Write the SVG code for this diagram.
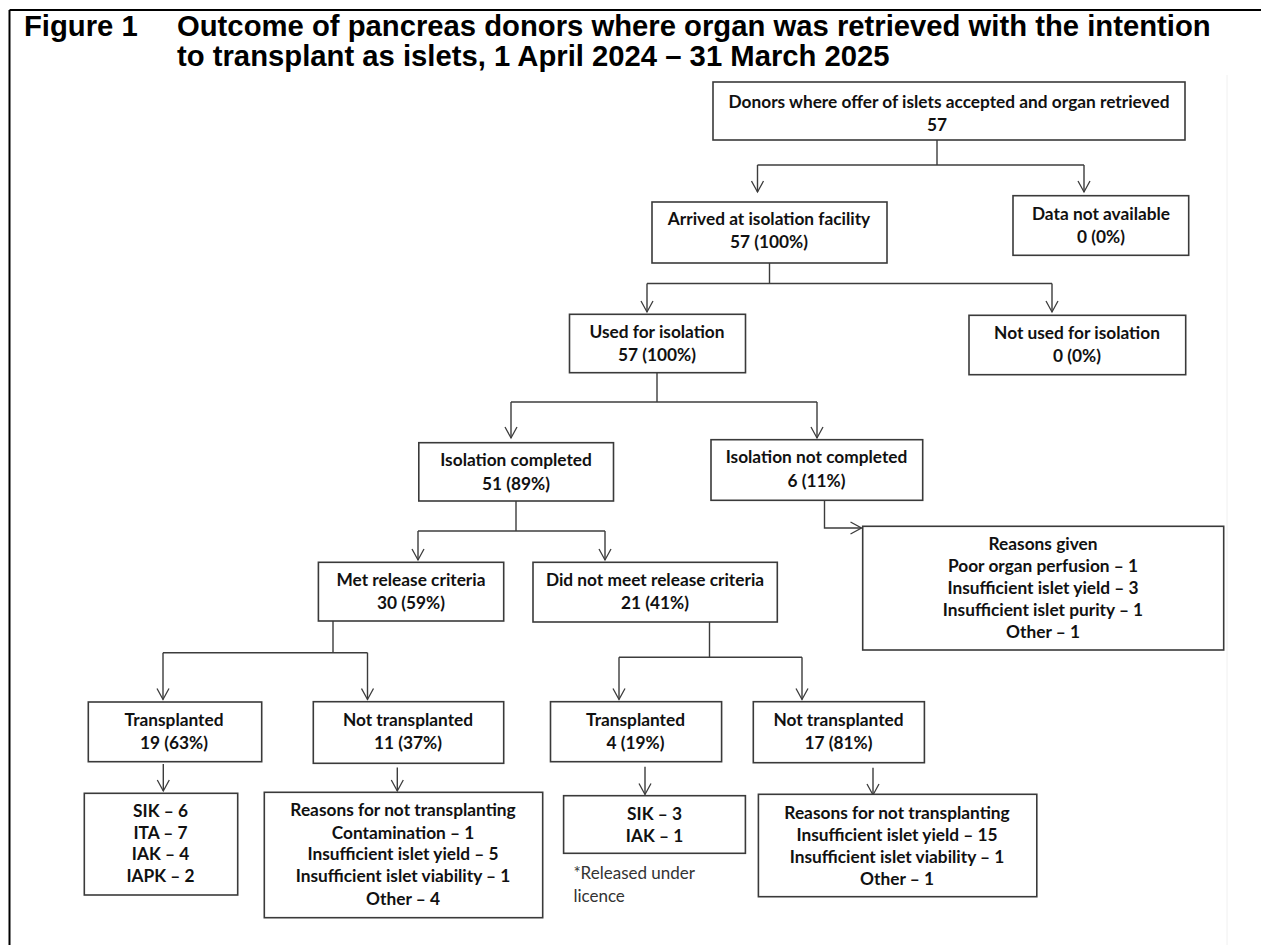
<svg xmlns="http://www.w3.org/2000/svg" width="1261" height="945" viewBox="0 0 1261 945">
<defs>
<marker id="arr" markerUnits="userSpaceOnUse" markerWidth="14" markerHeight="14" viewBox="-1 -1 14 14" refX="11" refY="6" orient="auto">
<path d="M0,0 L11,6 L0,12" fill="none" stroke="#3c3c3c" stroke-width="1.3"/>
</marker>
<style>
.title{font-family:"Liberation Sans",Arial,sans-serif;font-weight:bold;font-size:29.25px;fill:#000}
.box{fill:#fff;stroke:#3a3a3a;stroke-width:1.6}
.t{font-family:Lato,"Noto Sans",sans-serif;font-weight:bold;font-size:17.3px;fill:#111;text-anchor:middle}
.note{font-family:Lato,"Noto Sans",sans-serif;font-size:17px;fill:#333}
.c{fill:none;stroke:#3c3c3c;stroke-width:1.4}
.ca{fill:none;stroke:#3c3c3c;stroke-width:1.4;marker-end:url(#arr)}
</style>
</defs>
<rect width="1261" height="945" fill="#fff"/>
<g id="frame">
<line x1="9.5" y1="10" x2="1261" y2="10" stroke="#000" stroke-width="2"/>
<line x1="9.5" y1="10" x2="9.5" y2="945" stroke="#000" stroke-width="2"/>
<line x1="1227" y1="75" x2="1227" y2="945" stroke="#f0f0f0" stroke-width="1"/>
</g>
<g id="title">
<text class="title" x="24" y="36">Figure 1</text>
<text class="title" x="177" y="36">Outcome of pancreas donors where organ was retrieved with the intention</text>
<text class="title" x="177" y="66">to transplant as islets, 1 April 2024 – 31 March 2025</text>
</g>
<g id="connectors">
<polyline class="c" points="937,140 937,165"/>
<polyline class="c" points="757.5,165 1084,165"/>
<line class="ca" x1="757.5" y1="165" x2="757.5" y2="192"/>
<line class="ca" x1="1084" y1="165" x2="1084" y2="192"/>
<polyline class="c" points="769.5,263 769.5,283.5"/>
<polyline class="c" points="647,283.5 1052,283.5"/>
<line class="ca" x1="647" y1="283.5" x2="647" y2="312"/>
<line class="ca" x1="1052" y1="283.5" x2="1052" y2="312"/>
<polyline class="c" points="657,372.7 657,402"/>
<polyline class="c" points="511,402 817,402"/>
<line class="ca" x1="511" y1="402" x2="511" y2="438"/>
<line class="ca" x1="817" y1="402" x2="817" y2="438"/>
<polyline class="c" points="516,501 516,531"/>
<polyline class="c" points="418,531 605,531"/>
<line class="ca" x1="418" y1="531" x2="418" y2="560"/>
<line class="ca" x1="605" y1="531" x2="605" y2="560"/>
<polyline class="ca" points="824.5,500.3 824.5,528 861.5,528"/>
<polyline class="c" points="333,621 333,652.7"/>
<polyline class="c" points="163,652.7 367.5,652.7"/>
<line class="ca" x1="163" y1="652.7" x2="163" y2="699.5"/>
<line class="ca" x1="367.5" y1="652.7" x2="367.5" y2="699.5"/>
<polyline class="c" points="709.5,622 709.5,657.3"/>
<polyline class="c" points="619,657.3 802,657.3"/>
<line class="ca" x1="619" y1="657.3" x2="619" y2="699.5"/>
<line class="ca" x1="802" y1="657.3" x2="802" y2="699.5"/>
<line class="ca" x1="163.3" y1="764" x2="163.3" y2="791"/>
<line class="ca" x1="397.3" y1="767.5" x2="397.3" y2="791"/>
<line class="ca" x1="645" y1="766.7" x2="645" y2="794.5"/>
<line class="ca" x1="873" y1="767.7" x2="873" y2="795"/>
</g>
<g id="n-donors">
<rect class="box" x="713" y="82" width="472" height="58"/>
<text class="t" x="949" y="108">Donors where offer of islets accepted and organ retrieved</text>
<text class="t" x="937" y="131">57</text>
</g>
<g id="n-arrived">
<rect class="box" x="652" y="202" width="235" height="61"/>
<text class="t" x="769" y="225">Arrived at isolation facility</text>
<text class="t" x="769" y="248">57 (100%)</text>
</g>
<g id="n-datana">
<rect class="box" x="1013" y="195.7" width="175.7" height="59.6"/>
<text class="t" x="1101" y="219.5">Data not available</text>
<text class="t" x="1101" y="243">0 (0%)</text>
</g>
<g id="n-used">
<rect class="box" x="569.5" y="314.3" width="176" height="58.4"/>
<text class="t" x="657" y="338">Used for isolation</text>
<text class="t" x="657" y="361">57 (100%)</text>
</g>
<g id="n-notused">
<rect class="box" x="969" y="315.3" width="216.7" height="59.4"/>
<text class="t" x="1077" y="339">Not used for isolation</text>
<text class="t" x="1077" y="362">0 (0%)</text>
</g>
<g id="n-isocomp">
<rect class="box" x="418.8" y="442.7" width="194.7" height="58.3"/>
<text class="t" x="516" y="466">Isolation completed</text>
<text class="t" x="516" y="489.5">51 (89%)</text>
</g>
<g id="n-isonotcomp">
<rect class="box" x="711" y="439.7" width="211.7" height="60.6"/>
<text class="t" x="816.5" y="463">Isolation not completed</text>
<text class="t" x="816.5" y="487">6 (11%)</text>
</g>
<g id="n-reasons-given">
<rect class="box" x="862.7" y="526.3" width="361" height="123.7"/>
<text class="t" x="1043" y="550">Reasons given</text>
<text class="t" x="1043" y="572">Poor organ perfusion – 1</text>
<text class="t" x="1043" y="594">Insufficient islet yield – 3</text>
<text class="t" x="1043" y="616">Insufficient islet purity – 1</text>
<text class="t" x="1043" y="638">Other – 1</text>
</g>
<g id="n-met">
<rect class="box" x="318.4" y="562.3" width="185.3" height="58.7"/>
<text class="t" x="411" y="585.5">Met release criteria</text>
<text class="t" x="411" y="609">30 (59%)</text>
</g>
<g id="n-notmet">
<rect class="box" x="533" y="562.3" width="244.3" height="59.7"/>
<text class="t" x="655" y="585.5">Did not meet release criteria</text>
<text class="t" x="655" y="609">21 (41%)</text>
</g>
<g id="n-tx19">
<rect class="box" x="88.3" y="702" width="173.4" height="59.7"/>
<text class="t" x="174" y="725.5">Transplanted</text>
<text class="t" x="174" y="749">19 (63%)</text>
</g>
<g id="n-ntx11">
<rect class="box" x="313.3" y="701.7" width="190.4" height="61.6"/>
<text class="t" x="408" y="725.5">Not transplanted</text>
<text class="t" x="408" y="749">11 (37%)</text>
</g>
<g id="n-tx4">
<rect class="box" x="550.5" y="701.7" width="171.1" height="60"/>
<text class="t" x="635.5" y="725.5">Transplanted</text>
<text class="t" x="635.5" y="749">4 (19%)</text>
</g>
<g id="n-ntx17">
<rect class="box" x="753.3" y="701.7" width="171.1" height="61"/>
<text class="t" x="838.5" y="725.5">Not transplanted</text>
<text class="t" x="838.5" y="749">17 (81%)</text>
</g>
<g id="n-types19">
<rect class="box" x="84.3" y="793.3" width="153.4" height="101.7"/>
<text class="t" x="160.5" y="817">SIK – 6</text>
<text class="t" x="160.5" y="838.5">ITA – 7</text>
<text class="t" x="160.5" y="860">IAK – 4</text>
<text class="t" x="160.5" y="881.5">IAPK – 2</text>
</g>
<g id="n-reasons11">
<rect class="box" x="264.3" y="792.3" width="278.4" height="125.4"/>
<text class="t" x="403" y="816">Reasons for not transplanting</text>
<text class="t" x="403" y="838.5">Contamination – 1</text>
<text class="t" x="403" y="860">Insufficient islet yield – 5</text>
<text class="t" x="403" y="882">Insufficient islet viability – 1</text>
<text class="t" x="403" y="904.5">Other – 4</text>
</g>
<g id="n-types4">
<rect class="box" x="563.6" y="795.7" width="181.8" height="57.6"/>
<text class="t" x="654.5" y="819.5">SIK – 3</text>
<text class="t" x="654.5" y="842">IAK – 1</text>
</g>
<g id="n-note">
<text class="note" x="573.4" y="879">*Released under</text>
<text class="note" x="573.4" y="902">licence</text>
</g>
<g id="n-reasons17">
<rect class="box" x="758.4" y="794.3" width="278.4" height="102.4"/>
<text class="t" x="897" y="819">Reasons for not transplanting</text>
<text class="t" x="897" y="841">Insufficient islet yield – 15</text>
<text class="t" x="897" y="862.5">Insufficient islet viability – 1</text>
<text class="t" x="897" y="884.5">Other – 1</text>
</g>
</svg>
